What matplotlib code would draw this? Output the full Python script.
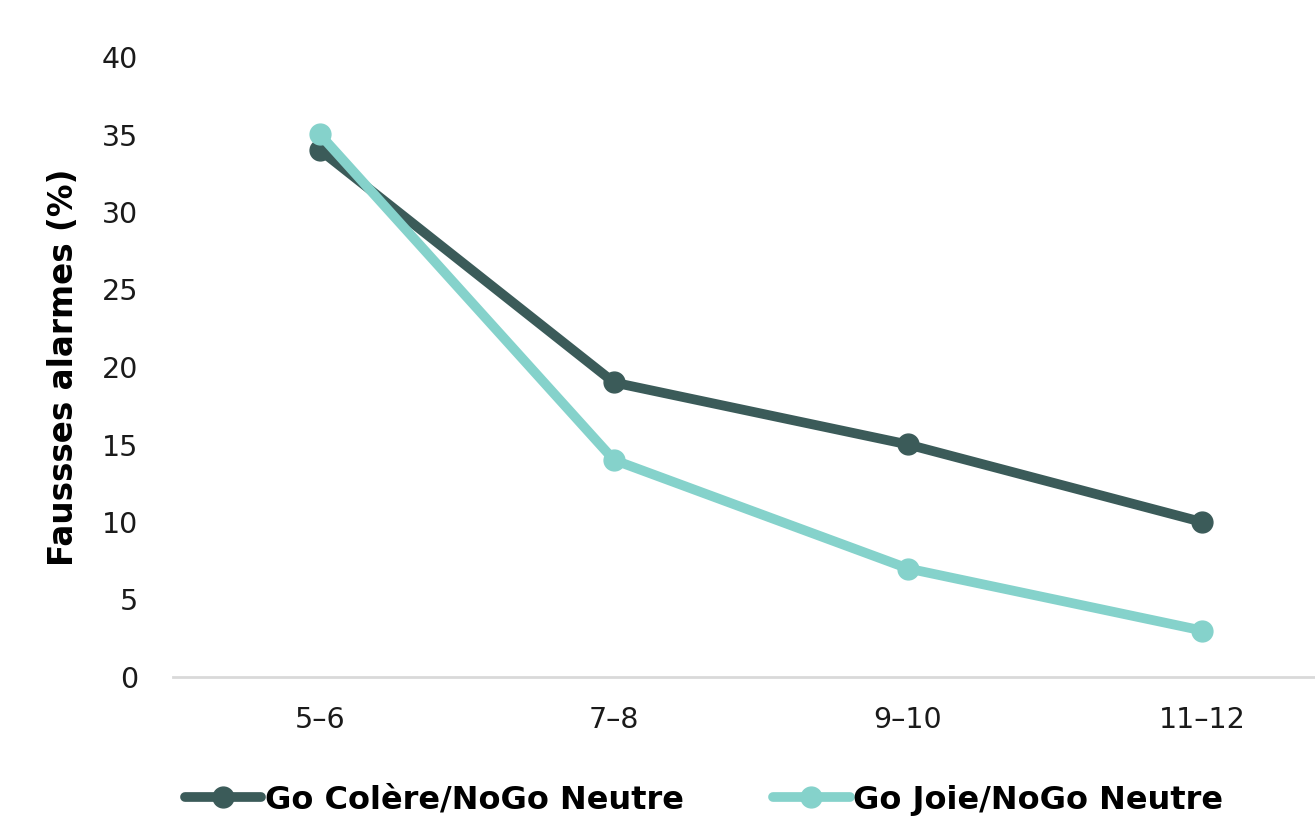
import matplotlib
matplotlib.use("Agg")
import matplotlib.pyplot as plt

# Age groups and false-alarm rates (%)
age_groups = ["5–6", "7–8", "9–10", "11–12"]
go_colere = [34, 19, 15, 10]
go_joie = [35, 14, 7, 3]
series_names = ["Go Colère/NoGo Neutre", "Go Joie/NoGo Neutre"]
y_ticks = [0, 5, 10, 15, 20, 25, 30, 35, 40]

dark = "#3b5b59"
light = "#85d2cb"

plt.rcParams["font.family"] = ["DejaVu Sans"]

fig = plt.figure(figsize=(13.15, 8.22), dpi=100)
ax = fig.add_axes([173 / 1315, 145 / 822, 1176 / 1315, 620 / 822])

x = list(range(len(age_groups)))
ax.plot(x, go_colere, color=dark, lw=7, marker="o", ms=15, label=series_names[0],
        solid_capstyle="round", zorder=3)
ax.plot(x, go_joie, color=light, lw=7, marker="o", ms=15, label=series_names[1],
        solid_capstyle="round", zorder=4)

ax.set_xlim(-0.5, 3.5)
ax.set_ylim(0, 40)
ax.set_yticks(y_ticks)
ax.set_xticks(x)
ax.set_xticklabels(age_groups)
ax.tick_params(axis="both", length=0, labelsize=20.5, colors="#1a1a1a")
ax.tick_params(axis="y", pad=25)
ax.tick_params(axis="x", pad=21)

for s in ["top", "right", "left"]:
    ax.spines[s].set_visible(False)
ax.spines["bottom"].set_color("#d9d9d9")
ax.spines["bottom"].set_linewidth(2)
ax.spines["bottom"].set_clip_on(False)

ax.set_ylabel("Faussses alarmes (%)", fontsize=23.5, fontweight="bold", labelpad=16)

leg = fig.legend(loc="center left", bbox_to_anchor=(172 / 1315, 22 / 822), ncol=2, frameon=False,
                 prop={"size": 23, "weight": "bold"}, handlelength=2.4, handletextpad=0.1,
                 columnspacing=2.8, borderaxespad=0.0)

fig.savefig("out.png", dpi=100)
